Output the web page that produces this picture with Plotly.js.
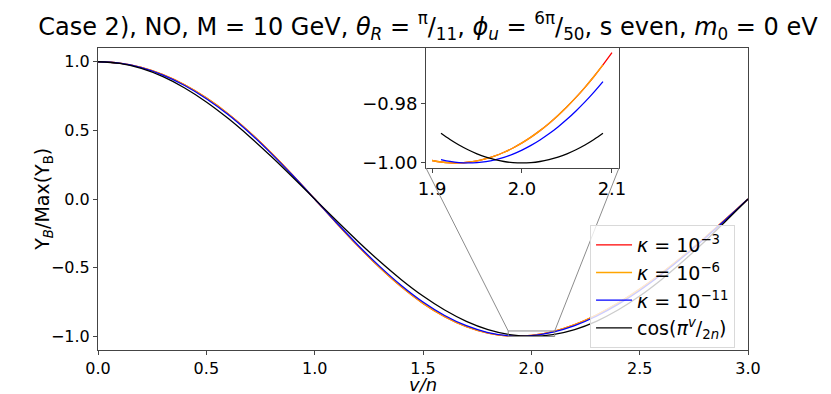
<!DOCTYPE html>
<html>
<head>
<meta charset="utf-8">
<script src="https://cdn.plot.ly/plotly-3.0.1.min.js"></script>
<style>body{margin:0;background:#fff}</style>
</head>
<body>
<div id="plot" style="width:831px;height:394px"></div>
<script>
// main panel
var vOverN = [0.0, 0.1, 0.2, 0.3, 0.4, 0.5, 0.6, 0.7, 0.8, 0.9, 1.0,
              1.1, 1.2, 1.3, 1.4, 1.5, 1.6, 1.7, 1.8, 1.9, 2.0,
              2.1, 2.2, 2.3, 2.4, 2.5, 2.6, 2.7, 2.8, 2.9, 3.0];
var yKappa3 = [1.0, 0.9896, 0.9581, 0.9055, 0.8315, 0.7364, 0.6216, 0.4873, 0.3358, 0.1719, 0.0,
               -0.1750, -0.3432, -0.4995, -0.6398, -0.7604, -0.8575, -0.9304, -0.9776, -0.9987, -0.9941,
               -0.9654, -0.9152, -0.8452, -0.7584, -0.6566, -0.5411, -0.4158, -0.2820, -0.1425, 0.0];
var yKappa6 = [1.0, 0.9896, 0.9581, 0.9055, 0.8315, 0.7364, 0.6216, 0.4873, 0.3358, 0.1719, 0.0,
               -0.1750, -0.3432, -0.4995, -0.6398, -0.7604, -0.8575, -0.9304, -0.9776, -0.9987, -0.9941,
               -0.9654, -0.9152, -0.8452, -0.7584, -0.6566, -0.5411, -0.4158, -0.2820, -0.1425, 0.0];
var yKappa11 = [1.0, 0.9892, 0.9568, 0.9027, 0.8272, 0.7308, 0.6152, 0.4810, 0.3307, 0.1690, 0.0,
                -0.1715, -0.3367, -0.4909, -0.6299, -0.7503, -0.8483, -0.9229, -0.9726, -0.9966, -0.9952,
                -0.9696, -0.9220, -0.8539, -0.7680, -0.6662, -0.5500, -0.4231, -0.2871, -0.1451, 0.0];
var yCos = [1.0, 0.9877, 0.9511, 0.8910, 0.8090, 0.7071, 0.5878, 0.4540, 0.3090, 0.1564, 0.0,
            -0.1564, -0.3090, -0.4540, -0.5878, -0.7071, -0.8090, -0.8910, -0.9511, -0.9877, -1.0,
            -0.9877, -0.9511, -0.8910, -0.8090, -0.7071, -0.5878, -0.4540, -0.3090, -0.1564, 0.0];

// zoomed panel around the minimum
var zoomX = [1.90, 1.91, 1.92, 1.93, 1.94, 1.95, 1.96, 1.97, 1.98, 1.99, 2.00,
             2.01, 2.02, 2.03, 2.04, 2.05, 2.06, 2.07, 2.08, 2.09, 2.10];
var zoomKappa3 = [-0.99917, -0.99968, -0.99996, -0.99998, -0.99976, -0.99929, -0.99857, -0.99761, -0.99640, -0.99495, -0.99325,
                  -0.99131, -0.98912, -0.98669, -0.98401, -0.98109, -0.97793, -0.97453, -0.97089, -0.96700, -0.96288];
var zoomKappa6 = zoomKappa3.slice(0, 20);
var zoomKappa11 = [-0.99884, -0.99947, -0.99986, -1.00000, -0.99989, -0.99954, -0.99894, -0.99810, -0.99700, -0.99566,
                   -0.99408, -0.99225, -0.99018, -0.98786, -0.98530, -0.98249, -0.97945, -0.97616, -0.97262];
var zoomCos = [-0.99002, -0.99211, -0.99396, -0.99556, -0.99692, -0.99803, -0.99889, -0.99951, -0.99988, -1.0,
               -0.99988, -0.99951, -0.99889, -0.99803, -0.99692, -0.99556, -0.99396, -0.99211, -0.99002];

var seriesNames = ['<i>κ</i> = 10<sup>−3</sup>', '<i>κ</i> = 10<sup>−6</sup>', '<i>κ</i> = 10<sup>−11</sup>',
                   'cos(<i>π</i><sup><i>v</i></sup>/<sub>2<i>n</i></sub>)'];
var seriesColors = ['#ff0000', '#ffa500', '#0000ff', '#000000'];

var mainRangeX = [0, 3], mainRangeY = [-1.1, 1.1];
var insetRangeX = [1.8933, 2.1078], insetRangeY = [-1.0017, -0.9613];
var insetDomX = [0.5046, 0.8015], insetDomY = [0.6026, 1.0];

var mainY = [yKappa3, yKappa6, yKappa11, yCos];
var zoomY = [zoomKappa3, zoomKappa6, zoomKappa11, zoomCos];
var zoomStart = [0, 0, 1, 1];

var traces = [];
for (var i = 0; i < 4; i++) {
  traces.push({
    x: vOverN, y: mainY[i], type: 'scatter', mode: 'lines',
    line: {color: seriesColors[i], width: 1.3, shape: 'spline'},
    name: seriesNames[i], xaxis: 'x', yaxis: 'y'
  });
}
for (var i = 0; i < 4; i++) {
  traces.push({
    x: zoomX.slice(zoomStart[i], zoomStart[i] + zoomY[i].length), y: zoomY[i],
    type: 'scatter', mode: 'lines',
    line: {color: seriesColors[i], width: 1.3, shape: 'spline'},
    showlegend: false, xaxis: 'x2', yaxis: 'y2'
  });
}

// map main-axis data coords to paper coords for the inset connectors
function px(v) { return (v - mainRangeX[0]) / (mainRangeX[1] - mainRangeX[0]); }
function py(v) { return (v - mainRangeY[0]) / (mainRangeY[1] - mainRangeY[0]); }

var grey = '#8c8c8c';
var shapes = [
  {type: 'rect', xref: 'x', yref: 'y', x0: insetRangeX[0], x1: insetRangeX[1], y0: insetRangeY[0], y1: insetRangeY[1],
   line: {color: grey, width: 1}},
  {type: 'line', xref: 'paper', yref: 'paper', x0: insetDomX[0], y0: insetDomY[0], x1: px(insetRangeX[0]), y1: py(insetRangeY[1]),
   line: {color: grey, width: 1}},
  {type: 'line', xref: 'paper', yref: 'paper', x0: insetDomX[1], y0: insetDomY[0], x1: px(insetRangeX[1]), y1: py(insetRangeY[1]),
   line: {color: grey, width: 1}}
];

var axisStyle = {
  showgrid: false, zeroline: false, showline: true, mirror: true,
  linecolor: '#444', linewidth: 1, ticks: 'outside', ticklen: 4, tickcolor: '#444',
  tickfont: {size: 16, color: '#000'}
};

// axis titles as annotations so they sit where the reference has them
var annotations = [
  {text: '<i>v/n</i>', xref: 'paper', yref: 'paper', x: 0.5, y: -0.152,
   xanchor: 'center', yanchor: 'bottom', showarrow: false, font: {size: 18}, borderpad: 0},
  {text: 'Y<sub><i>B</i></sub>/Max(Y<sub>B</sub>)', xref: 'paper', yref: 'paper', x: -0.085, y: 0.5,
   xanchor: 'center', yanchor: 'middle', textangle: -90, showarrow: false, font: {size: 19}}
];

var layout = {
  width: 831, height: 394,
  margin: {l: 98, r: 83, t: 48, b: 44},
  paper_bgcolor: '#fff', plot_bgcolor: '#fff',
  font: {family: 'DejaVu Sans', color: '#000'},
  title: {
    text: 'Case 2), NO, M = 10 GeV, <i>θ</i><sub><i>R</i></sub> = <sup>π</sup>/<sub>11</sub>, <i>ϕ</i><sub><i>u</i></sub> = <sup>6π</sup>/<sub>50</sub>, s even, <i>m</i><sub>0</sub> = 0 eV',
    font: {size: 24, family: 'DejaVu Sans', color: '#000'},
    x: 0.515, xanchor: 'center', y: 0.955, yanchor: 'top'
  },
  xaxis: Object.assign({}, axisStyle, {
    domain: [0, 1], range: mainRangeX, tickvals: [0, 0.5, 1, 1.5, 2, 2.5, 3],
    ticktext: ['0.0', '0.5', '1.0', '1.5', '2.0', '2.5', '3.0']
  }),
  yaxis: Object.assign({}, axisStyle, {
    domain: [0, 1], range: mainRangeY, tickvals: [-1, -0.5, 0, 0.5, 1],
    ticktext: ['−1.0', '−0.5', '0.0', '0.5', '1.0']
  }),
  xaxis2: Object.assign({}, axisStyle, {
    domain: insetDomX, range: insetRangeX, anchor: 'y2',
    tickvals: [1.9, 2.0, 2.1], ticktext: ['1.9', '2.0', '2.1'],
    tickfont: {size: 18, color: '#000'}
  }),
  yaxis2: Object.assign({}, axisStyle, {
    domain: insetDomY, range: insetRangeY, anchor: 'x2',
    tickvals: [-1.0, -0.98], ticktext: ['−1.00', '−0.98'],
    tickfont: {size: 18, color: '#000'}
  }),
  showlegend: true,
  legend: {
    x: 0.757, y: 0.414, xanchor: 'left', yanchor: 'top',
    bgcolor: 'rgba(255,255,255,0.8)', bordercolor: '#d9d9d9', borderwidth: 1,
    font: {size: 19, family: 'DejaVu Sans'}, tracegroupgap: 0, itemwidth: 36
  },
  annotations: annotations,
  shapes: shapes
};

Plotly.newPlot('plot', traces, layout, {staticPlot: true});
</script>
</body>
</html>
